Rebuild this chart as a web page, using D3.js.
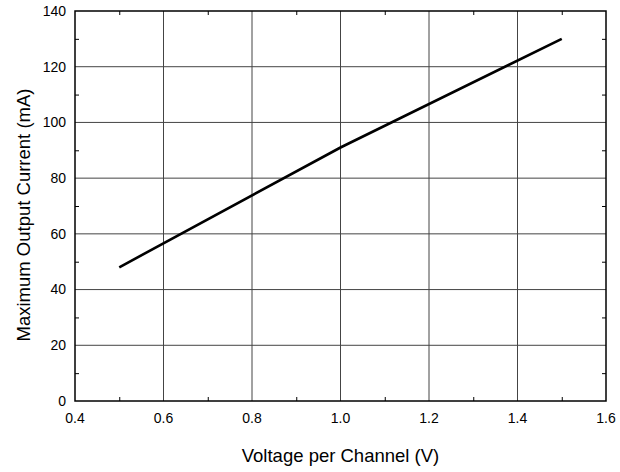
<!DOCTYPE html>
<html>
  <head>
    <meta charset="utf-8">
    <title>Maximum Output Current</title>
    <style>
      body { margin: 0; background: #fff; }
      text { font-family: "Liberation Sans", Arial, sans-serif; fill: #000; }
    </style>
  </head>
  <body>
    <script src="https://d3js.org/d3.v7.min.js"></script>
    <svg id="chart" width="620" height="472"></svg>
    <script>
      width = 620
      height = 472
      margin = { top: 11, right: 14, bottom: 71, left: 75 }

      // voltage per channel (V) and max output current (mA)
      const voltage = [0.5, 1.0, 1.5]
      const current = [48, 91, 130]
      const xTicks = [0.4, 0.6, 0.8, 1.0, 1.2, 1.4, 1.6]
      const yTicks = [0, 20, 40, 60, 80, 100, 120, 140]

      const svg = d3.select('#chart')

      const x = d3.scaleLinear([0.4, 1.6], [margin.left, width - margin.right])
      const y = d3.scaleLinear([0, 140], [height - margin.bottom, margin.top])

      // grid
      svg.append('g')
        .selectAll('line')
        .data(xTicks.slice(1, -1))
        .join('line')
          .attr('x1', d => x(d)).attr('x2', d => x(d))
          .attr('y1', y(0)).attr('y2', y(140))
          .style('stroke', '#444').style('stroke-width', 1)
      svg.append('g')
        .selectAll('line')
        .data(yTicks.slice(1, -1))
        .join('line')
          .attr('x1', x(0.4)).attr('x2', x(1.6))
          .attr('y1', d => y(d)).attr('y2', d => y(d))
          .style('stroke', '#444').style('stroke-width', 1)

      // minor ticks pointing inward on all four sides
      const xMinor = xTicks.slice(0, -1).map(d => d + 0.1)
      const yMinor = yTicks.slice(0, -1).map(d => d + 10)
      const axBottom = d3.axisBottom(x).tickValues(xMinor).tickSize(-4).tickFormat('')
      const axTop = d3.axisTop(x).tickValues(xMinor).tickSize(-4).tickFormat('')
      const axLeft = d3.axisLeft(y).tickValues(yMinor).tickSize(-4).tickFormat('')
      const axRight = d3.axisRight(y).tickValues(yMinor).tickSize(-4).tickFormat('')
      ;[[axBottom, `translate(0,${y(0)})`], [axTop, `translate(0,${y(140)})`],
        [axLeft, `translate(${x(0.4)},0)`], [axRight, `translate(${x(1.6)},0)`]].forEach(([ax, t]) => {
        const g = svg.append('g').attr('transform', t).call(ax)
        g.selectAll('.domain').remove()
        g.selectAll('line').style('stroke', '#000')
      })

      // frame
      svg.append('rect')
        .attr('x', x(0.4)).attr('y', y(140))
        .attr('width', x(1.6) - x(0.4)).attr('height', y(0) - y(140))
        .style('fill', 'none').style('stroke', '#000').style('stroke-width', 1.5)

      // tick labels
      svg.append('g')
        .selectAll('text')
        .data(xTicks)
        .join('text')
          .attr('x', d => x(d)).attr('y', y(0) + 22)
          .attr('text-anchor', 'middle')
          .style('font-size', '14px')
          .text(d => d3.format('.1f')(d))
      svg.append('g')
        .selectAll('text')
        .data(yTicks)
        .join('text')
          .attr('x', x(0.4) - 9).attr('y', d => y(d))
          .attr('dy', '0.35em')
          .attr('text-anchor', 'end')
          .style('font-size', '14px')
          .text(d => d)

      // data line
      const line = d3.line()
        .x((d, i) => x(voltage[i]))
        .y(d => y(d))
      svg.append('path')
        .datum(current)
        .attr('d', line)
        .style('fill', 'none').style('stroke', '#000').style('stroke-width', 2.6)

      // axis titles
      svg.append('text')
        .attr('x', (x(0.4) + x(1.6)) / 2).attr('y', 462)
        .attr('text-anchor', 'middle')
        .style('font-size', '18.5px')
        .text('Voltage per Channel (V)')
      svg.append('text')
        .attr('transform', `translate(30,215) rotate(-90)`)
        .attr('text-anchor', 'middle')
        .style('font-size', '18.5px')
        .text('Maximum Output Current (mA)')
    </script>
  </body>
</html>
